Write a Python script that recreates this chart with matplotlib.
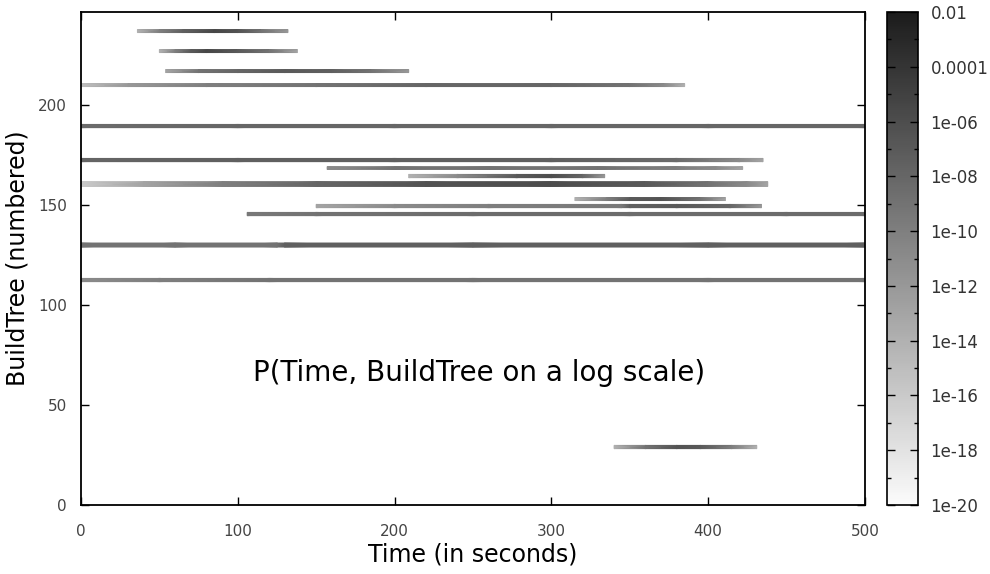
# P(Time, BuildTree) grayscale map, log colour scale
import numpy as np
import matplotlib
matplotlib.use("Agg")
import matplotlib.pyplot as plt
from matplotlib.colors import LogNorm, LinearSegmentedColormap
from matplotlib.cm import ScalarMappable
from matplotlib.ticker import FixedLocator, NullFormatter

# BuildTree rows (numbered) and their thickness
rows = [237, 227, 217, 210, 189.5, 172.5, 168.5, 164.5, 160.5, 153, 149.5, 145.5, 130, 112.5, 29]
heights = [1.5, 1.5, 1.5, 1.5, 1.6, 1.6, 1.4, 1.6, 2.4, 1.5, 1.6, 1.6, 2.0, 1.6, 1.6]

# sample times along each row (seconds)
times = [
    [36, 50, 65, 85, 100, 115, 132],
    [50, 60, 70, 80, 100, 120, 138],
    [54, 75, 100, 130, 160, 185, 209],
    [0, 30, 80, 150, 220, 300, 350, 372, 385],
    [0, 100, 200, 300, 400, 500],
    [0, 100, 200, 300, 380, 420, 435],
    [157, 200, 260, 330, 380, 405, 422],
    [209, 240, 278, 300, 320, 334],
    [0, 40, 90, 150, 220, 300, 360, 400, 425, 438],
    [315, 335, 350, 370, 395, 411],
    [150, 200, 260, 345, 350, 380, 414, 434],
    [106, 150, 250, 350, 450, 500],
    [0, 60, 125, 130, 250, 400, 500],
    [0, 50, 120, 250, 400, 500],
    [340, 360, 380, 395, 415, 431],
]

# log10 of the probability at each sample time
logp = [
    [-14, -10, -7.5, -5.5, -6.5, -9, -12],
    [-14, -10, -7, -5.5, -7, -9, -13],
    [-13, -9, -8, -7, -7.5, -9, -12],
    [-15, -12, -10, -9, -8, -8, -9, -11, -14],
    [-8.5, -8, -8, -8, -8, -8],
    [-8, -7.5, -7.5, -7.5, -8.5, -11, -13],
    [-11, -9, -9, -9, -10, -11, -13],
    [-14, -11, -7, -6, -8, -12],
    [-16, -13, -10, -8, -6.5, -6, -7, -9, -11, -13],
    [-14, -10, -7, -6.5, -9, -13],
    [-13, -11, -10, -9.5, -7.5, -7, -8, -12],
    [-9.5, -9, -8.5, -8.5, -8.5, -8.5],
    [-9, -9, -9, -7.5, -7.5, -7.5, -7.5],
    [-11, -10, -9, -9, -9, -9],
    [-14, -9, -6.5, -7, -10, -14],
]

# colour bar ticks (log10 decades)
cb_ticks = [-20, -18, -16, -14, -12, -10, -8, -6, -4, -2]
cb_labels = ["1e-20", "1e-18", "1e-16", "1e-14", "1e-12", "1e-10", "1e-08", "1e-06", "0.0001", "0.01"]

cmap = LinearSegmentedColormap.from_list("greys", ["#fbfbfb", "#1c1c1c"])
norm = LogNorm(vmin=1e-20, vmax=1e-2)

fig = plt.figure(figsize=(9.9, 5.74), dpi=100)
ax = fig.add_axes([0.0818, 0.1202, 0.7919, 0.8588])
cax = fig.add_axes([0.896, 0.1202, 0.0313, 0.8588])

# each row as a thin mesh, shaded between the sample times
for y, h, t, v in zip(rows, heights, times, logp):
    tt = np.array([t, t], dtype=float)
    yy = np.array([[y - h / 2] * len(t), [y + h / 2] * len(t)])
    z = np.power(10.0, np.array([v, v], dtype=float))
    ax.pcolormesh(tt, yy, z, cmap=cmap, norm=norm, shading="gouraud", rasterized=True)

ax.set_xlim(0, 500)
ax.set_ylim(0, 246.5)
ax.set_xticks([0, 100, 200, 300, 400, 500])
ax.set_yticks([0, 50, 100, 150, 200])
ax.tick_params(direction="in", top=True, right=True, length=6, width=1,
               labelsize=11, labelcolor="#444444", pad=14)
ax.tick_params(axis="y", pad=10)
for s in ax.spines.values():
    s.set_linewidth(1.3)

ax.set_xlabel("Time (in seconds)", fontsize=17, labelpad=2)
ax.set_ylabel("BuildTree (numbered)", fontsize=17, labelpad=6)
ax.text(254, 66, "P(Time, BuildTree on a log scale)", fontsize=20,
        ha="center", va="center")

# colour bar
sm = ScalarMappable(norm=norm, cmap=cmap)
cb = fig.colorbar(sm, cax=cax)
cb.set_ticks([10.0 ** t for t in cb_ticks])
cb.set_ticklabels(cb_labels)
cax.yaxis.set_minor_locator(FixedLocator([10.0 ** t for t in range(-19, -2, 2)]))
cax.yaxis.set_minor_formatter(NullFormatter())
cax.tick_params(which="both", direction="in", left=True, right=True, width=1)
cax.tick_params(which="major", length=6, labelsize=12, pad=9, labelcolor="#333333")
cax.tick_params(which="minor", length=3)
cb.outline.set_linewidth(1.2)

fig.savefig("out.png", dpi=100)
